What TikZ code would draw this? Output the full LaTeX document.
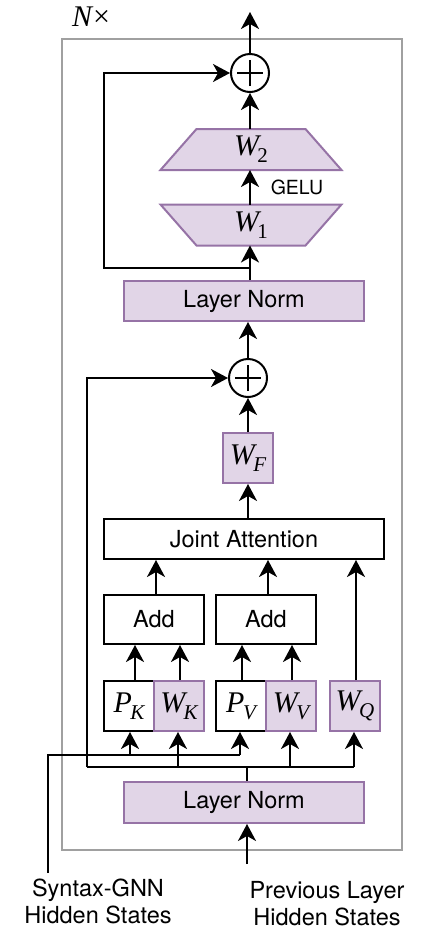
\documentclass[tikz,border=0pt]{standalone}
\usepackage{fontspec}
\setsansfont{TeX Gyre Heros}
\newfontfamily\serifmath{Liberation Serif}
\usetikzlibrary{arrows.meta,backgrounds}
\definecolor{pfill}{HTML}{E1D5E7}
\definecolor{pdraw}{HTML}{9673A6}
\definecolor{gbox}{HTML}{A0A0A0}
\newcommand\mvar[2]{{\fontsize{30}{32}\selectfont\serifmath\itshape #1}\kern-1.5pt\raisebox{-7pt}{\fontsize{21}{21}\selectfont\serifmath #2}}
\begin{document}
\begin{tikzpicture}[x=1pt,y=-1pt,line width=2pt,
  txt/.style={font=\sffamily\fontsize{23.5}{27}\selectfont, inner sep=0pt, align=center},
  box/.style={txt, draw=black, line width=2pt},
  pbox/.style={txt, draw=pdraw, fill=pfill, line width=2pt},
  sq/.style={minimum width=50pt, minimum height=50pt},
  trapn/.style={inner sep=0pt, outer sep=0pt, minimum width=181pt, minimum height=41pt},
  trapd/.style={draw=pdraw, fill=pfill, line width=2pt, line join=miter},
  sumnode/.style={circle, draw=black, line width=2pt, minimum size=38pt, inner sep=0pt,
    path picture={\draw[line width=2pt]
      ([xshift=-13pt]path picture bounding box.center) -- ([xshift=13pt]path picture bounding box.center)
      ([yshift=-13pt]path picture bounding box.center) -- ([yshift=13pt]path picture bounding box.center);}},
  arr/.style={-{Stealth[length=17pt,width=18pt,inset=5pt]}, line width=2pt}]
\useasboundingbox (0,0) rectangle (426,930);
% outer frame
\node[draw=gbox, line width=2pt, minimum width=340pt, minimum height=811pt, inner sep=0pt] (outer) at (232,444.5) {};
\node[inner sep=0pt] (nx) at (91,17) {\fontsize{30}{32}\selectfont\serifmath{\itshape N}\kern1pt×};
% upper block
\node[sumnode] (plus1) at (250,73) {};
\node[trapn] (w2) at (251,149.5) {\raisebox{3pt}{\mvar{W}{2}}};
\node[trapn] (w1) at (251,225) {\raisebox{3pt}{\mvar{W}{1}}};
\node[txt, font=\sffamily\fontsize{19.5}{22}\selectfont] (gelu) at (297,187) {GELU};
\begin{scope}[on background layer]
  \path[trapd] (w2.south west) -- (w2.south east) -- ([xshift=-36pt]w2.north east) -- ([xshift=36pt]w2.north west) -- cycle;
  \path[trapd] (w1.north west) -- (w1.north east) -- ([xshift=-36pt]w1.south east) -- ([xshift=36pt]w1.south west) -- cycle;
\end{scope}
\node[pbox, minimum width=240pt, minimum height=40pt] (ln1) at (244,301) {Layer Norm};
\coordinate (out) at (250,12);
\coordinate (br1) at (250,268);
\coordinate (lp1) at (104,268);
\draw[arr] (plus1.north) -- (out);
\draw[arr] (w2.north -| plus1.south) -- (plus1.south);
\draw[arr] (w1.north -| plus1.south) -- (w2.south -| plus1.south);
\draw[arr] (ln1.north -| plus1.south) -- (w1.south -| plus1.south);
\draw[arr] (br1) -- (lp1) |- (plus1.west);
% middle block
\node[sumnode] (plus2) at (248,378) {};
\node[pbox, sq] (wf) at (248,458) {\raisebox{2pt}{\mvar{W}{\itshape F}}};
\node[box, minimum width=280pt, minimum height=40pt] (ja) at (244,539) {Joint Attention};
\draw[arr] (plus2.north) -- (plus2.north |- ln1.south);
\draw[arr] (wf.north) -- (plus2.south);
\draw[arr] (ja.north -| wf.south) -- (wf.south);
% add boxes
\node[box, minimum width=100pt, minimum height=49pt] (add1) at (154,619.5) {Add};
\node[box, minimum width=100pt, minimum height=49pt] (add2) at (266,619.5) {Add};
\draw[arr] ([xshift=2pt]add1.north) -- ([xshift=2pt]add1.north |- ja.south);
\draw[arr] ([xshift=2pt]add2.north) -- ([xshift=2pt]add2.north |- ja.south);
% projections
\node[box, sq] (pk) at (129,706) {\raisebox{2pt}{\mvar{P}{\itshape K}}};
\node[pbox, sq] (wk) at (179,706) {\raisebox{2pt}{\mvar{W}{\itshape K}}};
\node[box, sq] (pv) at (241,706) {\raisebox{2pt}{\mvar{P}{\itshape V}}};
\node[pbox, sq] (wv) at (291,706) {\raisebox{2pt}{\mvar{W}{\itshape V}}};
\node[pbox, sq] (wq) at (355,706) {\raisebox{2pt}{\mvar{W}{\itshape Q}}};
\draw[arr] ([xshift=6pt]pk.north) -- ([xshift=6pt]pk.north |- add1.south);
\draw[arr] ([xshift=1pt]wk.north) -- ([xshift=1pt]wk.north |- add1.south);
\draw[arr] ([xshift=1pt]pv.north) -- ([xshift=1pt]pv.north |- add2.south);
\draw[arr] ([xshift=1pt]wv.north) -- ([xshift=1pt]wv.north |- add2.south);
\draw[arr] ([xshift=1pt]wq.north) -- ([xshift=1pt]wq.north |- ja.south);
% bottom
\node[pbox, minimum width=240pt, minimum height=41pt] (ln2) at (244,802.5) {Layer Norm};
\coordinate (gnn) at (48,873);
\coordinate (gnnturn) at (48,755);
\coordinate (gnnend) at (240,755);
\coordinate (busl) at (87,767);
\coordinate (busr) at (354,767);
\coordinate (inp) at (247,864);
\draw (gnn) -- (gnnturn) -- (gnnend);
\draw (busl) -- (busr);
\draw[arr] (busl) |- (plus2.west);
\draw[arr] ([xshift=1pt]pk.south |- gnnturn) -- ([xshift=1pt]pk.south);
\draw[arr] ([xshift=-1pt]pv.south |- gnnturn) -- ([xshift=-1pt]pv.south);
\draw[arr] ([xshift=-1pt]wk.south |- busl) -- ([xshift=-1pt]wk.south);
\draw[arr] ([xshift=-1pt]wv.south |- busl) -- ([xshift=-1pt]wv.south);
\draw[arr] ([xshift=-1pt]wq.south |- busl) -- ([xshift=-1pt]wq.south);
\draw ([xshift=3pt]ln2.north) -- ([xshift=3pt]ln2.north |- busl);
\draw[arr] (inp) -- (inp |- ln2.south);
% labels
\node[txt] (lgnn) at (98,901) {Syntax-GNN\\Hidden States};
\node[txt] (lprev) at (327,904) {Previous Layer\\Hidden States};
\end{tikzpicture}
\end{document}
